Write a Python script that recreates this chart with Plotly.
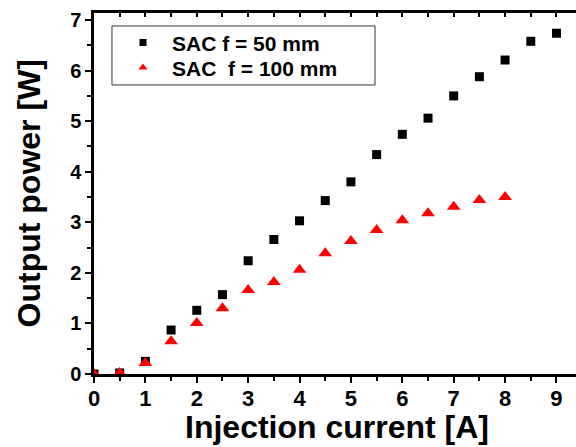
import plotly.graph_objects as go

current = [0, 0.5, 1, 1.5, 2, 2.5, 3, 3.5, 4, 4.5, 5, 5.5, 6, 6.5, 7, 7.5, 8, 8.5, 9]
power_50 = [0.0, 0.02, 0.25, 0.87, 1.26, 1.57, 2.24, 2.66, 3.03, 3.43, 3.80, 4.34, 4.74, 5.06, 5.50, 5.88, 6.21, 6.58, 6.74]
current_100 = [0, 0.5, 1, 1.5, 2, 2.5, 3, 3.5, 4, 4.5, 5, 5.5, 6, 6.5, 7, 7.5, 8]
power_100 = [0.0, 0.02, 0.22, 0.65, 1.01, 1.30, 1.66, 1.82, 2.06, 2.39, 2.63, 2.85, 3.04, 3.18, 3.31, 3.44, 3.50]

name_50 = "SAC f = 50 mm"
name_100 = "SAC  f = 100 mm"
x_title = "Injection current [A]"
y_title = "Output power [W]"

font = "Liberation Sans, Arial, sans-serif"

fig = go.Figure()
fig.add_trace(go.Scatter(x=current, y=power_50, mode="markers", showlegend=False,
                         marker=dict(symbol="square", size=9, color="black")))
fig.add_trace(go.Scatter(x=current_100, y=power_100, mode="markers", showlegend=False,
                         marker=dict(symbol="triangle-up", size=12, color="red")))
# legend entries (small symbols, as in the reference legend)
fig.add_trace(go.Scatter(x=[None], y=[None], mode="markers", name=name_50, legend="legend",
                         marker=dict(symbol="square", size=7, color="black")))
fig.add_trace(go.Scatter(x=[None], y=[None], mode="markers", name=name_100.replace(" ", "\u00a0"), legend="legend2",
                         marker=dict(symbol="triangle-up", size=8, color="red")))
# invisible trace for top mirrored ticks
fig.add_trace(go.Scatter(x=[0], y=[0], xaxis="x2", mode="markers", showlegend=False,
                         marker=dict(opacity=0), hoverinfo="skip"))

leg_common = dict(xanchor="left", yanchor="middle", borderwidth=0, bgcolor="rgba(0,0,0,0)",
                  font=dict(size=21, family=font, weight="bold"), itemwidth=48)

fig.update_layout(
    width=576, height=447,
    margin=dict(l=94, r=0, t=13, b=73),
    paper_bgcolor="white", plot_bgcolor="white",
    font=dict(family=font, color="black"),
    showlegend=True,
    legend=dict(x=0.0415, y=0.917, **leg_common),
    legend2=dict(x=0.0415, y=0.848, **leg_common),
    shapes=[dict(type="rect", xref="paper", yref="paper", x0=0.0373, x1=0.583, y0=0.8006, y1=0.964,
                 line=dict(color="#333", width=1), fillcolor="rgba(0,0,0,0)", layer="below")],
    annotations=[
        dict(text=x_title, xref="paper", yref="paper", x=0.505, y=-0.148, xanchor="center", yanchor="middle",
             showarrow=False, font=dict(size=32, family=font, weight="bold")),
        dict(text=y_title, xref="paper", yref="paper", x=-0.135, y=0.5, xanchor="center", yanchor="middle",
             textangle=-90, showarrow=False, font=dict(size=32, family=font, weight="bold")),
    ],
    xaxis=dict(range=[0, 9.38], tickvals=list(range(10)),
               ticks="outside", ticklen=6, tickwidth=2, tickcolor="black",
               showline=True, linewidth=2.5, linecolor="black", mirror=True,
               showgrid=False, zeroline=False, ticklabelstandoff=-3,
               minor=dict(dtick=0.5, ticks="outside", ticklen=4, tickwidth=1.5, tickcolor="black"),
               tickfont=dict(size=22, family=font, weight="bold")),
    xaxis2=dict(range=[0, 9.38], overlaying="x", side="top", showticklabels=False,
                tickvals=[i * 0.5 for i in range(19)], ticks="inside", ticklen=4, tickwidth=1.5,
                tickcolor="black", showline=False, showgrid=False, zeroline=False),
    yaxis=dict(range=[0, 7.14], tickvals=list(range(8)),
               ticks="outside", ticklen=6, tickwidth=2, tickcolor="black",
               showline=True, linewidth=2.5, linecolor="black",
               showgrid=False, zeroline=False,
               minor=dict(dtick=0.5, ticks="outside", ticklen=4, tickwidth=1.5, tickcolor="black"),
               tickfont=dict(size=20, family=font, weight="bold")),
)

fig.write_html("out.html")
